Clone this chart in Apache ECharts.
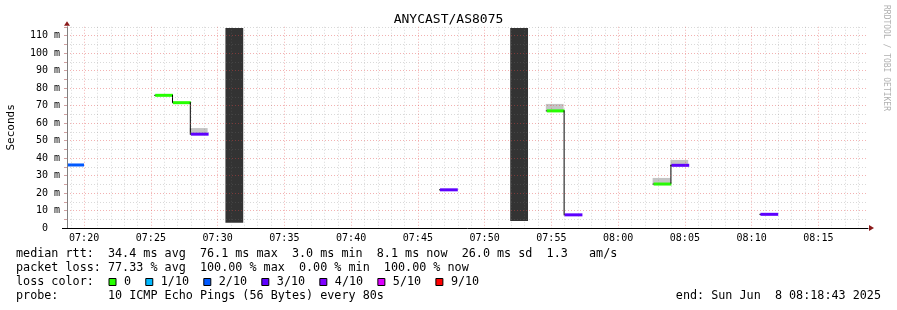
<!DOCTYPE html>
<html><head><meta charset="utf-8">
<script src="https://cdn.jsdelivr.net/npm/echarts@6/dist/echarts.min.js"></script>
<style>html,body{margin:0;padding:0;background:#fff}#c{width:897px;height:310px}</style>
</head><body><div id="c"></div>
<script>
// ---------- data ----------
const chartTitle = 'ANYCAST/AS8075';
const axisStart = '07:18:43';
const axisEnd = '08:18:43';
const stepSeconds = 80;
const firstSlotStart = '07:18:35';
const slotIndex   = [0,    5,    6,    7,    9,     21,   25,    27,   28,  33,   34,   39];
const medianMs    = [36.3, 76.1, 71.9, 53.9, null,  22.1, null,  67.2, 7.8, 25.4, 36.1, 8.1];
const lossTenths  = [2,    0,    0,    3,    null,  3,    null,  0,    3,   0,    3,    3];
const smokeLowMs  = [null, null, null, 53.9, 3.0,   null, 4.0,   67.2, null, 25.4, 36.1, null];
const smokeHighMs = [null, null, null, 57.1, 114.3, null, 114.3, 70.9, null, 28.6, 38.9, null];
const smokeDense  = [false,false,false,false,true,  false,true,  false,false,false,false,false];
const yMax = 115;
const lossKeys   = [0, 1, 2, 3, 4, 5, 9];
const lossLabels = ['0', '1/10', '2/10', '3/10', '4/10', '5/10', '9/10'];
const statsLines = [
  'median rtt:  34.4 ms avg  76.1 ms max  3.0 ms min  8.1 ms now  26.0 ms sd  1.3   am/s',
  'packet loss: 77.33 % avg  100.00 % max  0.00 % min  100.00 % now',
  'loss color:',
  'probe:       10 ICMP Echo Pings (56 Bytes) every 80s'
];
const endLabel = 'end: Sun Jun  8 08:18:43 2025';
const watermark = 'RRDTOOL / TOBI OETIKER';

// ---------- styles ----------
const lossColorMap = {0:'#26ff00',1:'#00b8ff',2:'#0059ff',3:'#5e00ff',4:'#7e00ff',5:'#dd00ff',9:'#ff0000'};
const MONO = '"DejaVu Sans Mono", monospace';
const GRID_RED = 'rgba(225,70,70,0.42)';
const GRID_GRAY = 'rgba(120,120,120,0.28)';

function toSec(s){ const p = s.split(':').map(Number); return p[0]*3600 + p[1]*60 + p[2]; }
function fmtHM(v){ const h = Math.floor(v/3600), m = Math.floor((v%3600)/60); return String(h).padStart(2,'0')+':'+String(m).padStart(2,'0'); }

const xMin = toSec(axisStart), xMax = toSec(axisEnd);
const slot0 = toSec(firstSlotStart);
const items = slotIndex.map((k, i) => {
  const prevIdx = i > 0 && slotIndex[i-1] === k - 1 ? i - 1 : -1;
  return {
    t0: slot0 + k*stepSeconds, t1: slot0 + (k+1)*stepSeconds,
    med: medianMs[i], loss: lossTenths[i], lo: smokeLowMs[i], hi: smokeHighMs[i], dense: smokeDense[i],
    prev: prevIdx >= 0 ? medianMs[prevIdx] : null
  };
});

// ticks every minute, labels every 5 minutes
const minuteTicks = [];
for (let t = Math.ceil(xMin/60)*60; t <= xMax; t += 60) minuteTicks.push(t);
const labelTicks = minuteTicks.filter(t => t % 300 === 0);
const xLineColors = minuteTicks.slice(0,5).map(t => t % 300 === 0 ? GRID_RED : GRID_GRAY);

const chart = echarts.init(document.getElementById('c'), null, {renderer:'canvas'});

function renderItem(params, api){
  const d = items[params.dataIndex];
  const cs = params.coordSys;
  const clampX = x => Math.max(cs.x, Math.min(cs.x + cs.width, x));
  const xs = clampX(api.coord([d.t0, 0])[0]);
  const xe = clampX(api.coord([d.t1, 0])[0]);
  const children = [];
  if (d.lo != null && d.hi != null) {
    const yLo = api.coord([d.t0, d.lo])[1];
    const yHi = Math.max(cs.y, api.coord([d.t0, d.hi])[1]);
    children.push({type:'rect', shape:{x:xs, y:yHi, width:xe-xs, height:yLo-yHi},
      style:{fill: d.dense ? '#333333' : '#c4c4c4'}});
  }
  if (d.med != null) {
    const y = api.coord([d.t0, d.med])[1];
    children.push({type:'line', shape:{x1:xs, y1:y+0.5, x2:xe, y2:y+0.5}, style:{stroke:'#000', lineWidth:1}});
    children.push({type:'rect', shape:{x:xs+1, y:y-1, width:xe-xs, height:3}, style:{fill: lossColorMap[d.loss]}});
    if (d.prev != null) {
      const yp = api.coord([d.t0, d.prev])[1];
      children.push({type:'line', shape:{x1:xs+0.5, y1:yp, x2:xs+0.5, y2:y}, style:{stroke:'#000', lineWidth:1}});
    }
  }
  return {type:'group', children};
}

// legend graphics
const graphics = [];
const rowY = [254, 268, 282, 296];
statsLines.forEach((s, i) => {
  graphics.push({type:'text', x:16, y:rowY[i], z:10,
    style:{text:s, font:'11.75px '+MONO, fill:'#000', textVerticalAlign:'middle', textAlign:'left'}});
});
const CH = 7.08;
let bx = 109;
lossKeys.forEach((k, i) => {
  graphics.push({type:'rect', x:bx, y:rowY[2]-3.5, shape:{x:0, y:0, width:7, height:7}, z:10,
    style:{fill: lossColorMap[k], stroke:'#000', lineWidth:1}});
  graphics.push({type:'text', x:bx+15, y:rowY[2], z:10,
    style:{text:lossLabels[i], font:'11.75px '+MONO, fill:'#000', textVerticalAlign:'middle', textAlign:'left'}});
  bx += 15 + lossLabels[i].length*CH + 14.7;
});
graphics.push({type:'text', x:881, y:rowY[3], z:10,
  style:{text:endLabel, font:'11.75px '+MONO, fill:'#000', textVerticalAlign:'middle', textAlign:'right'}});
graphics.push({type:'text', x:886, y:5, rotation:-Math.PI/2, z:10,
  style:{text:watermark, font:'8px '+MONO, fill:'#b0b0b0', textVerticalAlign:'middle', textAlign:'left'}});

chart.setOption({
  animation:false,
  backgroundColor:'#fff',
  title:{text:chartTitle, left:'center', top:8, textStyle:{fontFamily:MONO, fontSize:13, fontWeight:'normal', color:'#000'}},
  grid:{left:67, right:29, top:26.75, bottom:82, containLabel:false, outerBoundsMode:'none'},
  xAxis:{
    type:'value', min:xMin, max:xMax, z:4,
    axisLine:{show:true, onZero:false, lineStyle:{color:'#000', width:1}},
    axisTick:{show:false, customValues:minuteTicks},
    axisLabel:{customValues:labelTicks, formatter:v => fmtHM(v), fontFamily:MONO, fontSize:10, color:'#000', margin:5},
    splitLine:{show:true, lineStyle:{color:xLineColors, type:[1,2], width:1}}
  },
  yAxis:{
    type:'value', min:0, max:yMax, interval:5, z:3,
    name:'Seconds', nameLocation:'middle', nameGap:50, nameRotate:90,
    nameTextStyle:{fontFamily:MONO, fontSize:11, color:'#000'},
    axisLine:{show:true, lineStyle:{color:'#808080', width:1}},
    axisTick:{show:true, length:3, lineStyle:{color:'#d0a0a0'}},
    axisLabel:{fontFamily:MONO, fontSize:10, color:'#000', margin:7,
      formatter:v => v === 0 ? '0  ' : (v % 10 === 0 && v <= 110 ? v + ' m' : '')},
    splitLine:{show:true, lineStyle:{color:[GRID_RED, GRID_GRAY], type:[1,2], width:1}}
  },
  series:[{
    type:'custom', z:2,
    renderItem: renderItem,
    encode:{x:[0,1], y:2},
    data: items.map(d => [d.t0, d.t1, d.med == null ? d.lo : d.med])
  }],
  graphic: graphics
});

// axis arrows (decoration), placed from the axis scales
const pxEnd = chart.convertToPixel({gridIndex:0}, [xMax, 0]);
const pyEnd = chart.convertToPixel({gridIndex:0}, [xMin, yMax]);
graphics.push({type:'polygon', z:10, shape:{points:[[pxEnd[0]+1, pxEnd[1]-3],[pxEnd[0]+6, pxEnd[1]],[pxEnd[0]+1, pxEnd[1]+3]]}, style:{fill:'#8b1a1a'}});
graphics.push({type:'polygon', z:10, shape:{points:[[pyEnd[0]-3, pyEnd[1]-1],[pyEnd[0], pyEnd[1]-5.5],[pyEnd[0]+3, pyEnd[1]-1]]}, style:{fill:'#8b1a1a'}});
graphics.push({type:'line', z:10, shape:{x1:pyEnd[0]-5, y1:pxEnd[1]+0.5, x2:pyEnd[0], y2:pxEnd[1]+0.5}, style:{stroke:'#000', lineWidth:1}});
chart.setOption({graphic: graphics});
</script>
</body></html>
